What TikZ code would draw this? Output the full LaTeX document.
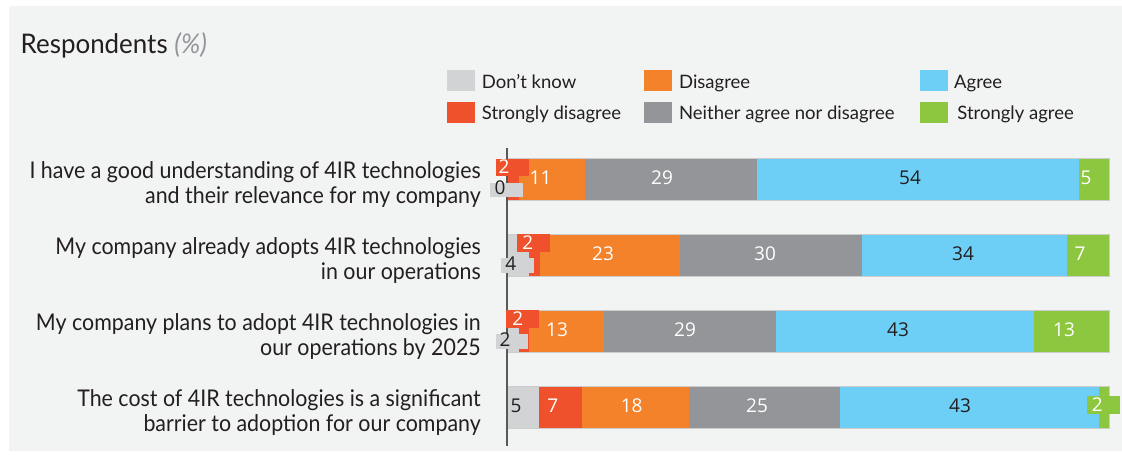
\documentclass[tikz,border=0pt]{standalone}
\usepackage{fontspec}
\setmainfont{Lato}
\newfontfamily\numfont{Open Sans}
\newfontfamily\labfont[FakeStretch=0.93]{Lato}
\newfontfamily\titfont[FakeStretch=0.96]{Lato}
\definecolor{panel}{HTML}{F2F3F3}
\definecolor{cdk}{HTML}{D1D3D4}
\definecolor{csd}{HTML}{EE512B}
\definecolor{cdis}{HTML}{F4822A}
\definecolor{cnei}{HTML}{939598}
\definecolor{cagr}{HTML}{6DCFF6}
\definecolor{csa}{HTML}{8DC63F}
\definecolor{txt}{HTML}{231F20}
\tikzset{
  rowlab/.style={anchor=base east, font=\labfont\fontsize{23}{26}\selectfont, text=txt, inner sep=0pt},
  legsq/.style={minimum width=28pt, minimum height=20.7pt, inner sep=0pt},
  legtxt/.style={anchor=base west, font=\fontsize{18.5}{21}\selectfont, text=txt, inner sep=0pt},
  wnum/.style={font=\numfont\fontsize{19}{20}\selectfont, text=white, inner sep=0pt},
  dnum/.style={font=\numfont\fontsize{19}{20}\selectfont, text=txt, inner sep=0pt},
  seg/.style={draw=white!60!gray, line width=0.3pt}
}
\begin{document}
\begin{tikzpicture}[x=1pt,y=-1pt]
\useasboundingbox (0,0) rectangle (1122,455);
\fill[white] (0,0) rectangle (1122,455);
\fill[panel] (9,6) rectangle (1122,451);
% title
\node[anchor=base west, inner sep=0pt, font=\titfont\fontsize{27}{29}\selectfont, text=txt] (title) at (20.5,53.3) {Respondents \textcolor{cnei}{\textit{(\%)}}};
% legend
\node[legsq, fill=cdk] (l1) at (460.85,80.35) {};
\node[legtxt] (t1) at (481.7,88) {Don’t know};
\node[legsq, fill=csd] (l2) at (460.85,112.35) {};
\node[legtxt] (t2) at (481.7,119.3) {Strongly disagree};
\node[legsq, fill=cdis] (l3) at (657.5,80.35) {};
\node[legtxt] (t3) at (678.9,88) {Disagree};
\node[legsq, fill=cnei] (l4) at (657.5,112.35) {};
\node[legtxt] (t4) at (678.9,119.3) {Neither agree nor disagree};
\node[legsq, fill=cagr] (l5) at (933.8,80.35) {};
\node[legtxt] (t5) at (954,88) {Agree};
\node[legsq, fill=csa] (l6) at (933.8,112.35) {};
\node[legtxt] (t6) at (957.2,119.3) {Strongly agree};
% row labels
\node[rowlab] (r1a) at (481,178) {I have a good understanding of 4IR technologies};
\node[rowlab] (r1b) at (481,203.7) {and their relevance for my company};
\node[rowlab] (r2a) at (481,254) {My company already adopts 4IR technologies};
\node[rowlab] (r2b) at (481,279.7) {in our operations};
\node[rowlab] (r3a) at (481,330) {My company plans to adopt 4IR technologies in};
\node[rowlab] (r3b) at (481,355.7) {our operations by 2025};
\node[rowlab] (r4a) at (481,406) {The cost of 4IR technologies is a significant};
\node[rowlab] (r4b) at (481,431.7) {barrier to adoption for our company};
% row 1
\fill[csd] (507,158) rectangle (518.9,200);
\fill[cdis] (518.9,158) rectangle (584.5,200);
\fill[cnei] (584.5,158) rectangle (757.3,200);
\fill[cagr] (757.3,158) rectangle (1079.2,200);
\fill[csa] (1079.2,158) rectangle (1109,200);
\draw[seg] (507,158) rectangle (1109,200);
% row 2
\fill[cdk] (507,234) rectangle (529,276);
\fill[csd] (529,234) rectangle (540,276);
\fill[cdis] (540,234) rectangle (679.5,276);
\fill[cnei] (679.5,234) rectangle (861.5,276);
\fill[cagr] (861.5,234) rectangle (1066.5,276);
\fill[csa] (1066.5,234) rectangle (1109,276);
\draw[seg] (507,234) rectangle (1109,276);
% row 3
\fill[cdk] (507,310) rectangle (518.8,352);
\fill[csd] (518.8,310) rectangle (529,352);
\fill[cdis] (529,310) rectangle (604,352);
\fill[cnei] (604,310) rectangle (775.5,352);
\fill[cagr] (775.5,310) rectangle (1034,352);
\fill[csa] (1034,310) rectangle (1109,352);
\draw[seg] (507,310) rectangle (1109,352);
% row 4
\fill[cdk] (507,386) rectangle (539,428);
\fill[csd] (539,386) rectangle (582,428);
\fill[cdis] (582,386) rectangle (689,428);
\fill[cnei] (689,386) rectangle (840,428);
\fill[cagr] (840,386) rectangle (1099,428);
\fill[csa] (1099,386) rectangle (1109,428);
\draw[seg] (507,386) rectangle (1109,428);
% axis
\coordinate (axtop) at (507,148);
\coordinate (axbot) at (507,446);
\draw[line width=1.2pt, color=txt!75] (axtop) -- (axbot);
% small label boxes
\fill[csd] (496,159) rectangle (529,175.7);
\fill[cdk] (490,182.7) rectangle (522.7,196.7);
\fill[csd] (516.7,234) rectangle (550,251.7);
\fill[cdk] (500.7,258.3) rectangle (534,272.7);
\fill[csd] (506,310) rectangle (539,327.7);
\fill[cdk] (496,334) rectangle (528.3,349);
\fill[csa] (1087.3,395.7) rectangle (1120,414.3);
% numbers row1
\node[wnum] (n12) at (504,167) {2};
\node[dnum] (n11) at (500,188) {0};
\node[wnum] (n13) at (540.5,178) {11};
\node[wnum] (n14) at (662,178) {29};
\node[dnum] (n15) at (910,178) {54};
\node[wnum] (n16) at (1086,178) {5};
% row2
\node[wnum] (n22) at (527.7,243) {2};
\node[dnum] (n21) at (510.7,264) {4};
\node[wnum] (n23) at (603,254) {23};
\node[wnum] (n24) at (765,254) {30};
\node[dnum] (n25) at (963,254) {34};
\node[wnum] (n26) at (1080,254) {7};
% row3
\node[wnum] (n32) at (517.7,319) {2};
\node[dnum] (n31) at (505,340) {2};
\node[wnum] (n33) at (557,330) {13};
\node[wnum] (n34) at (685,330) {29};
\node[dnum] (n35) at (898,330) {43};
\node[wnum] (n36) at (1064,330) {13};
% row4
\node[dnum] (n41) at (516,406) {5};
\node[wnum] (n42) at (552.7,406) {7};
\node[wnum] (n43) at (631.7,406) {18};
\node[wnum] (n44) at (757,406) {25};
\node[dnum] (n45) at (960,406) {43};
\node[wnum] (n46) at (1097.3,405) {2};
\end{tikzpicture}
\end{document}
